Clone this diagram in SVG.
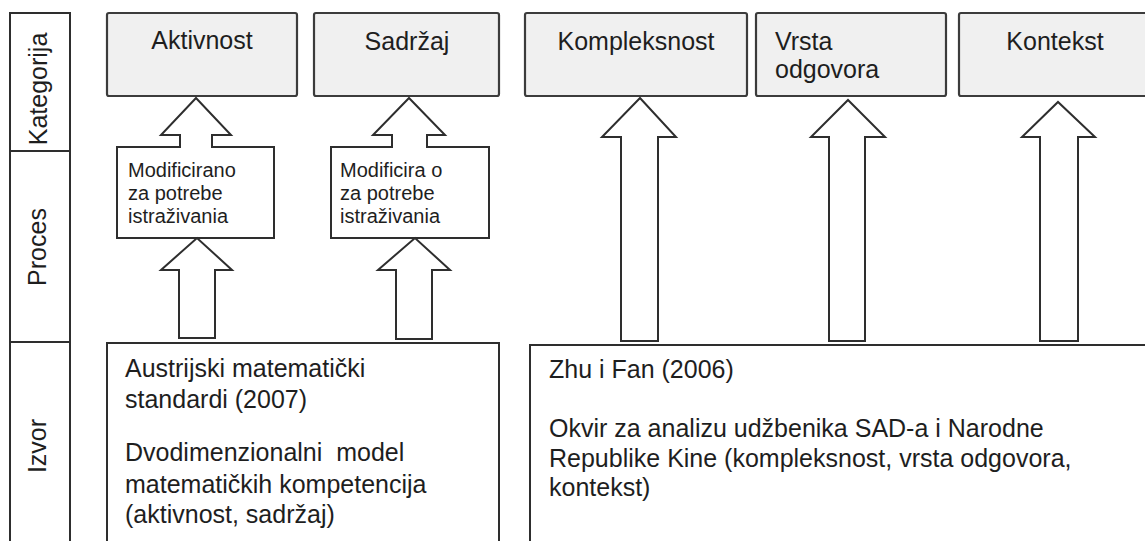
<svg xmlns="http://www.w3.org/2000/svg" width="1145" height="541" viewBox="0 0 1145 541">
<style>
.t{font-family:"Liberation Sans",Arial,sans-serif;fill:#1e1e1e;}
.lbl{font-size:25px;}
.sm{font-size:20px;}
.cat{fill:#f0f0f0;stroke:#3c3c3c;stroke-width:2.2;}
.box{fill:#ffffff;stroke:#2e2e2e;stroke-width:2;}
.arr{fill:#ffffff;stroke:#2e2e2e;stroke-width:2;stroke-linejoin:miter;}
</style>
<rect x="0" y="0" width="1145" height="541" fill="#ffffff"/>
<g id="rowlabels">
<rect class="box" x="10" y="13" width="60" height="540"/>
<line x1="10" y1="151" x2="70" y2="151" stroke="#2e2e2e" stroke-width="2"/>
<line x1="10" y1="342" x2="70" y2="342" stroke="#2e2e2e" stroke-width="2"/>
<text class="t lbl" text-anchor="middle" transform="translate(47,89) rotate(-90)">Kategorija</text>
<text class="t lbl" text-anchor="middle" transform="translate(46,247) rotate(-90)">Proces</text>
<text class="t lbl" text-anchor="middle" transform="translate(46,446) rotate(-90)">Izvor</text>
</g>
<g id="aktivnost">
<rect class="cat" x="107" y="13" width="190" height="83" rx="2"/>
<text class="t lbl" x="202" y="49" text-anchor="middle">Aktivnost</text>
</g>
<g id="sadrzaj">
<rect class="cat" x="314" y="13" width="185" height="83" rx="2"/>
<text class="t lbl" x="407" y="50" text-anchor="middle">Sadržaj</text>
</g>
<g id="kompleksnost">
<rect class="cat" x="525" y="13" width="222" height="83" rx="2"/>
<text class="t lbl" x="636" y="50" text-anchor="middle">Kompleksnost</text>
</g>
<g id="vrsta">
<rect class="cat" x="756" y="13" width="190" height="83" rx="2"/>
<text class="t lbl" x="775" y="50">Vrsta</text>
<text class="t lbl" x="775" y="78">odgovora</text>
</g>
<g id="kontekst">
<rect class="cat" x="959" y="13" width="200" height="83" rx="2"/>
<text class="t lbl" x="1055" y="50" text-anchor="middle">Kontekst</text>
</g>
<g id="proces1">
<path class="arr" d="M117,147 H180 V135 H161 L196,98 L231,135 H212 V147 H274 V238 H117 Z"/>
<text class="t sm" x="128" y="177">Modificirano</text>
<text class="t sm" x="128" y="200">za potrebe</text>
<text class="t sm" x="128" y="223">istraživania</text>
</g>
<g id="proces2">
<path class="arr" d="M331,147 H392 V135 H373 L409,98 L445,135 H427 V147 H489 V238 H331 Z"/>
<text class="t sm" x="340" y="177" xml:space="preserve">Modificira o</text>
<text class="t sm" x="340" y="200">za potrebe</text>
<text class="t sm" x="340" y="223">istraživania</text>
</g>
<g id="izvor1">
<rect class="box" x="107" y="343" width="392" height="220"/>
<text class="t lbl" x="125" y="377">Austrijski matematički</text>
<text class="t lbl" x="125" y="408">standardi (2007)</text>
<text class="t lbl" x="125" y="461" xml:space="preserve">Dvodimenzionalni  model</text>
<text class="t lbl" x="125" y="493">matematičkih kompetencija</text>
<text class="t lbl" x="125" y="523">(aktivnost, sadržaj)</text>
</g>
<g id="izvor2">
<rect class="box" x="530" y="345" width="640" height="220"/>
<text class="t lbl" x="549" y="378">Zhu i Fan (2006)</text>
<text class="t lbl" x="549" y="437">Okvir za analizu udžbenika SAD-a i Narodne</text>
<text class="t lbl" x="549" y="467">Republike Kine (kompleksnost, vrsta odgovora,</text>
<text class="t lbl" x="549" y="496">kontekst)</text>
</g>
<g id="connectors">
<path class="arr" d="M179,338 V270 H161 L197,238 L232,270 H215 V338 Z"/>
<path class="arr" d="M396,339 V270 H378 L415,238 L450,270 H432 V339 Z"/>
<path class="arr" d="M621,341 V137 H602 L640,98 L676,137 H658 V341 Z"/>
<path class="arr" d="M829,341 V137 H811 L848,100 L885,137 H865 V341 Z"/>
<path class="arr" d="M1040,341 V137 H1022 L1058,102 L1095,137 H1078 V341 Z"/>
</g>
</svg>
